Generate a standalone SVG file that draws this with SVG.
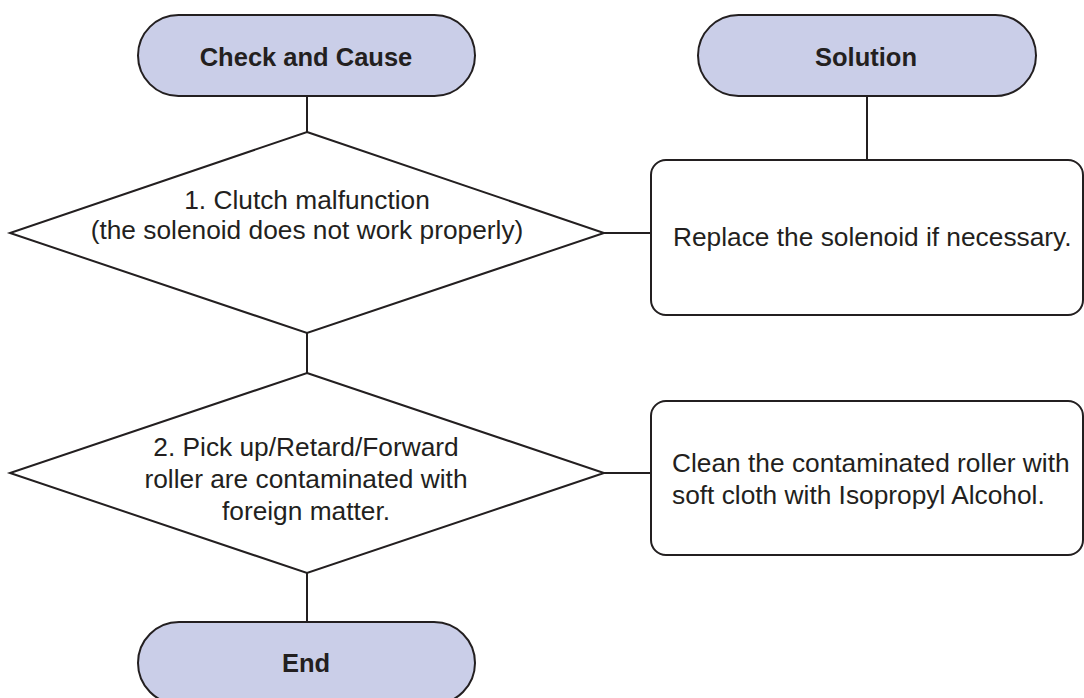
<svg xmlns="http://www.w3.org/2000/svg" width="1084" height="698" viewBox="0 0 1084 698">
  <style>
    .term { fill: #cacee8; stroke: #231f20; stroke-width: 2; }
    .shape { fill: #ffffff; stroke: #231f20; stroke-width: 2; }
    .conn { stroke: #231f20; stroke-width: 2; fill: none; }
    .title { font-family: "Liberation Sans", Arial, sans-serif; font-weight: bold; font-size: 25.5px; fill: #231f20; text-anchor: middle; }
    .body { font-family: "Liberation Sans", Arial, sans-serif; font-size: 26.3px; fill: #231f20; }
    .mid { text-anchor: middle; }
  </style>
  <rect width="1084" height="698" fill="#ffffff"/>

  <g id="connectors">
    <line class="conn" x1="307" y1="96" x2="307" y2="132"/>
    <line class="conn" x1="307" y1="333" x2="307" y2="373"/>
    <line class="conn" x1="307" y1="573" x2="307" y2="622"/>
    <line class="conn" x1="867" y1="96" x2="867" y2="160"/>
    <line class="conn" x1="604" y1="233" x2="651" y2="233"/>
    <line class="conn" x1="604" y1="473" x2="651" y2="473"/>
  </g>

  <g id="check-and-cause">
    <rect class="term" x="138" y="15" width="337" height="81" rx="40.5" ry="40.5"/>
    <text class="title" x="306" y="66">Check and Cause</text>
  </g>

  <g id="solution">
    <rect class="term" x="698" y="15" width="338" height="81" rx="40.5" ry="40.5"/>
    <text class="title" x="866" y="66">Solution</text>
  </g>

  <g id="check-1">
    <polygon class="shape" points="307,132 604,233 307,333 10,233"/>
    <text class="body mid" x="307" y="209">1. Clutch malfunction</text>
    <text class="body mid" x="307" y="239">(the solenoid does not work properly)</text>
  </g>

  <g id="solution-1">
    <rect class="shape" x="651" y="160" width="432" height="155" rx="15" ry="15"/>
    <text class="body" x="673" y="246">Replace the solenoid if necessary.</text>
  </g>

  <g id="check-2">
    <polygon class="shape" points="307,373 604,473 307,573 10,473"/>
    <text class="body mid" x="306" y="456">2. Pick up/Retard/Forward</text>
    <text class="body mid" x="306" y="488">roller are contaminated with</text>
    <text class="body mid" x="306" y="520">foreign matter.</text>
  </g>

  <g id="solution-2">
    <rect class="shape" x="651" y="401" width="432" height="154" rx="15" ry="15"/>
    <text class="body" x="672" y="472">Clean the contaminated roller with</text>
    <text class="body" x="672" y="504">soft cloth with Isopropyl Alcohol.</text>
  </g>

  <g id="end">
    <rect class="term" x="138" y="622" width="337" height="82" rx="41" ry="41"/>
    <text class="title" x="306" y="672">End</text>
  </g>
</svg>
